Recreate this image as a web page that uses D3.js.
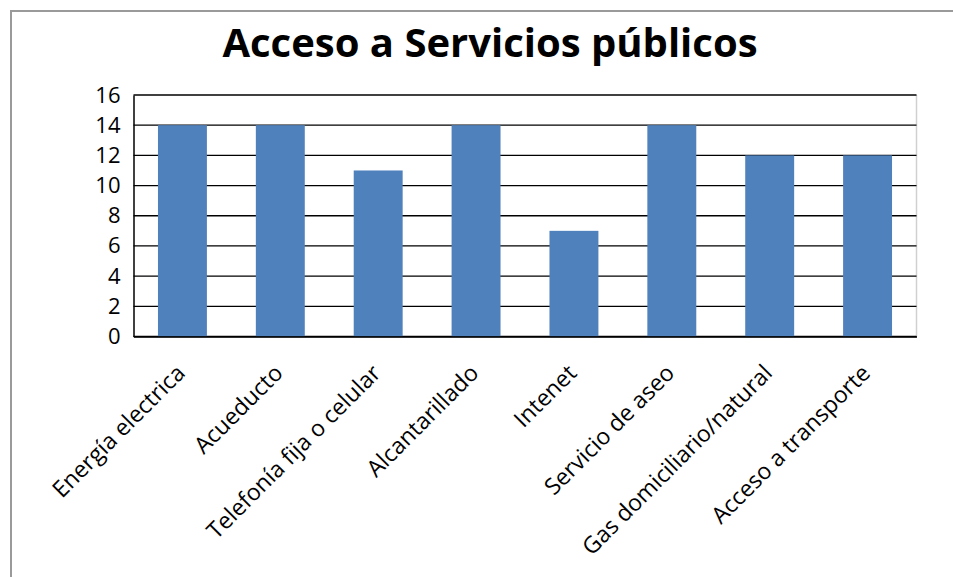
<!DOCTYPE html>
<html><head><meta charset="utf-8">
<script src="https://cdn.jsdelivr.net/npm/d3@7"></script>
<style>body{margin:0;background:#fff}svg{display:block}</style>
</head><body>
<script>
const categories = ["Energía electrica","Acueducto","Telefonía fija o celular","Alcantarillado","Intenet","Servicio de aseo","Gas domiciliario/natural","Acceso a transporte"];
const values = [14,14,11,14,7,14,12,12];
const yTicks = [0,2,4,6,8,10,12,14,16];
const title = "Acceso a Servicios públicos";

const W = 953, H = 577;
const m = {left:133.5, right:916.5, top:95, bottom:336.5};
const font = "'Open Sans', sans-serif";

const svg = d3.select("body").append("svg").attr("width",W).attr("height",H);
svg.append("rect").attr("width",W).attr("height",H).attr("fill","#fff");
// outer chart border
svg.append("path").attr("d",`M11,${H+2}V11H${W+2}`).attr("fill","none").attr("stroke","#9a9a9a").attr("stroke-width",2);

const x = d3.scaleBand().domain(categories).range([m.left,m.right]).paddingInner(0.5).paddingOuter(0.25);
const y = d3.scaleLinear().domain([0,16]).range([m.bottom,m.top]);

// right border of plot area
svg.append("line").attr("x1",m.right).attr("x2",m.right).attr("y1",m.top).attr("y2",m.bottom).attr("stroke","#d0d0d0").attr("stroke-width",1.5);

// gridlines
svg.append("g").selectAll("line").data(yTicks).join("line")
  .attr("x1",m.left).attr("x2",m.right).attr("y1",d=>y(d)).attr("y2",d=>y(d))
  .attr("stroke","#000").attr("stroke-width",1.3);

// bars
svg.append("g").selectAll("rect").data(values).join("rect")
  .attr("x",(d,i)=>x(categories[i])).attr("width",x.bandwidth())
  .attr("y",d=>y(d)).attr("height",d=>y(0)-y(d)).attr("fill","#4F81BD");

// y axis
const ya = svg.append("g").attr("transform",`translate(${m.left},0)`)
  .call(d3.axisLeft(y).tickValues(yTicks).tickSize(0).tickPadding(13));
ya.select(".domain").attr("stroke","#000").attr("stroke-width",1.5);
ya.selectAll("text").attr("font-family",font).attr("font-size",22).attr("fill","#000");

// x axis
const xa = svg.append("g").attr("transform",`translate(0,${m.bottom})`)
  .call(d3.axisBottom(x).tickSize(0).tickPadding(0));
xa.select(".domain").attr("stroke","#000").attr("stroke-width",1.5);
xa.selectAll("text").attr("font-family",font).attr("font-size",23).attr("fill","#000")
  .attr("text-anchor","end").attr("dy",0).attr("y",0)
  .attr("transform","translate(4,38) rotate(-45)");

// title
svg.append("text").attr("x",490).attr("y",57).attr("text-anchor","middle")
  .attr("font-family",font).attr("font-weight","bold").attr("font-size",40)
  .attr("fill","#000").text(title);
</script>
</body></html>
